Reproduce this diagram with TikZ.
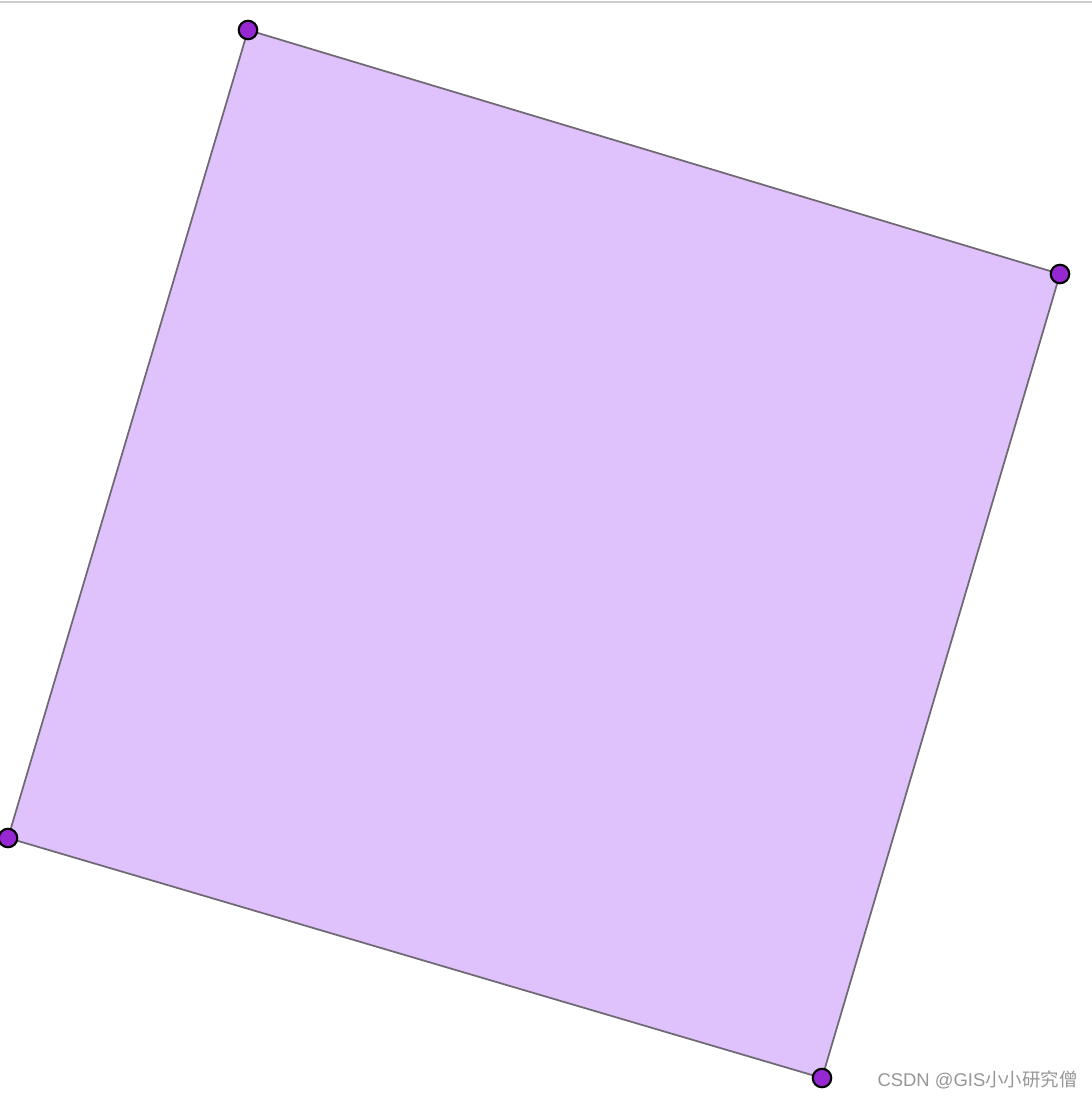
\documentclass[tikz,border=0pt]{standalone}
\usepackage{fontspec}
\setmainfont{Liberation Sans}
\newfontfamily\cjk{Noto Sans CJK SC}
\usetikzlibrary{positioning}
\definecolor{QuadFill}{RGB}{223,194,251}
\definecolor{QuadBorder}{RGB}{110,105,115}
\definecolor{VertexFill}{RGB}{150,40,210}
\definecolor{TopRule}{RGB}{205,205,205}
\definecolor{MarkGray}{RGB}{150,150,150}
\tikzset{
  vertice/.style={circle, draw=black, fill=VertexFill, line width=1.2pt,
                minimum size=3.7mm, inner sep=0pt},
  quadrado/.style={draw=QuadBorder, fill=QuadFill, line width=1pt, line join=miter},
  marca/.style={font=\fontsize{10.5}{12}\selectfont, text=MarkGray, inner sep=0pt},
}
\begin{document}
\begin{tikzpicture}[x=0.02cm, y=-0.02cm]
  \useasboundingbox (0,0) rectangle (1092,1099);
  \draw[TopRule, line width=0.6pt] (0,2) -- (1092,2);

  % --- Vertices of the rotated square -----------------------------------------
  \coordinate (pa) at (248, 30);
  \coordinate (pb) at (1060, 274);
  \coordinate (pc) at (822, 1078);
  \coordinate (pd) at (8, 838);
  \filldraw[quadrado] (pa) -- (pb) -- (pc) -- (pd) -- cycle;

  \node[vertice] (va) at (pa) {};
  \node[vertice] (vb) at (pb) {};
  \node[vertice] (vc) at (pc) {};
  \node[vertice] (vd) at (pd) {};

  \node[marca, anchor=east] (mark) at (1078, 1080) {CSDN @GIS{\cjk 小小研究僧}};
\end{tikzpicture}
\end{document}
